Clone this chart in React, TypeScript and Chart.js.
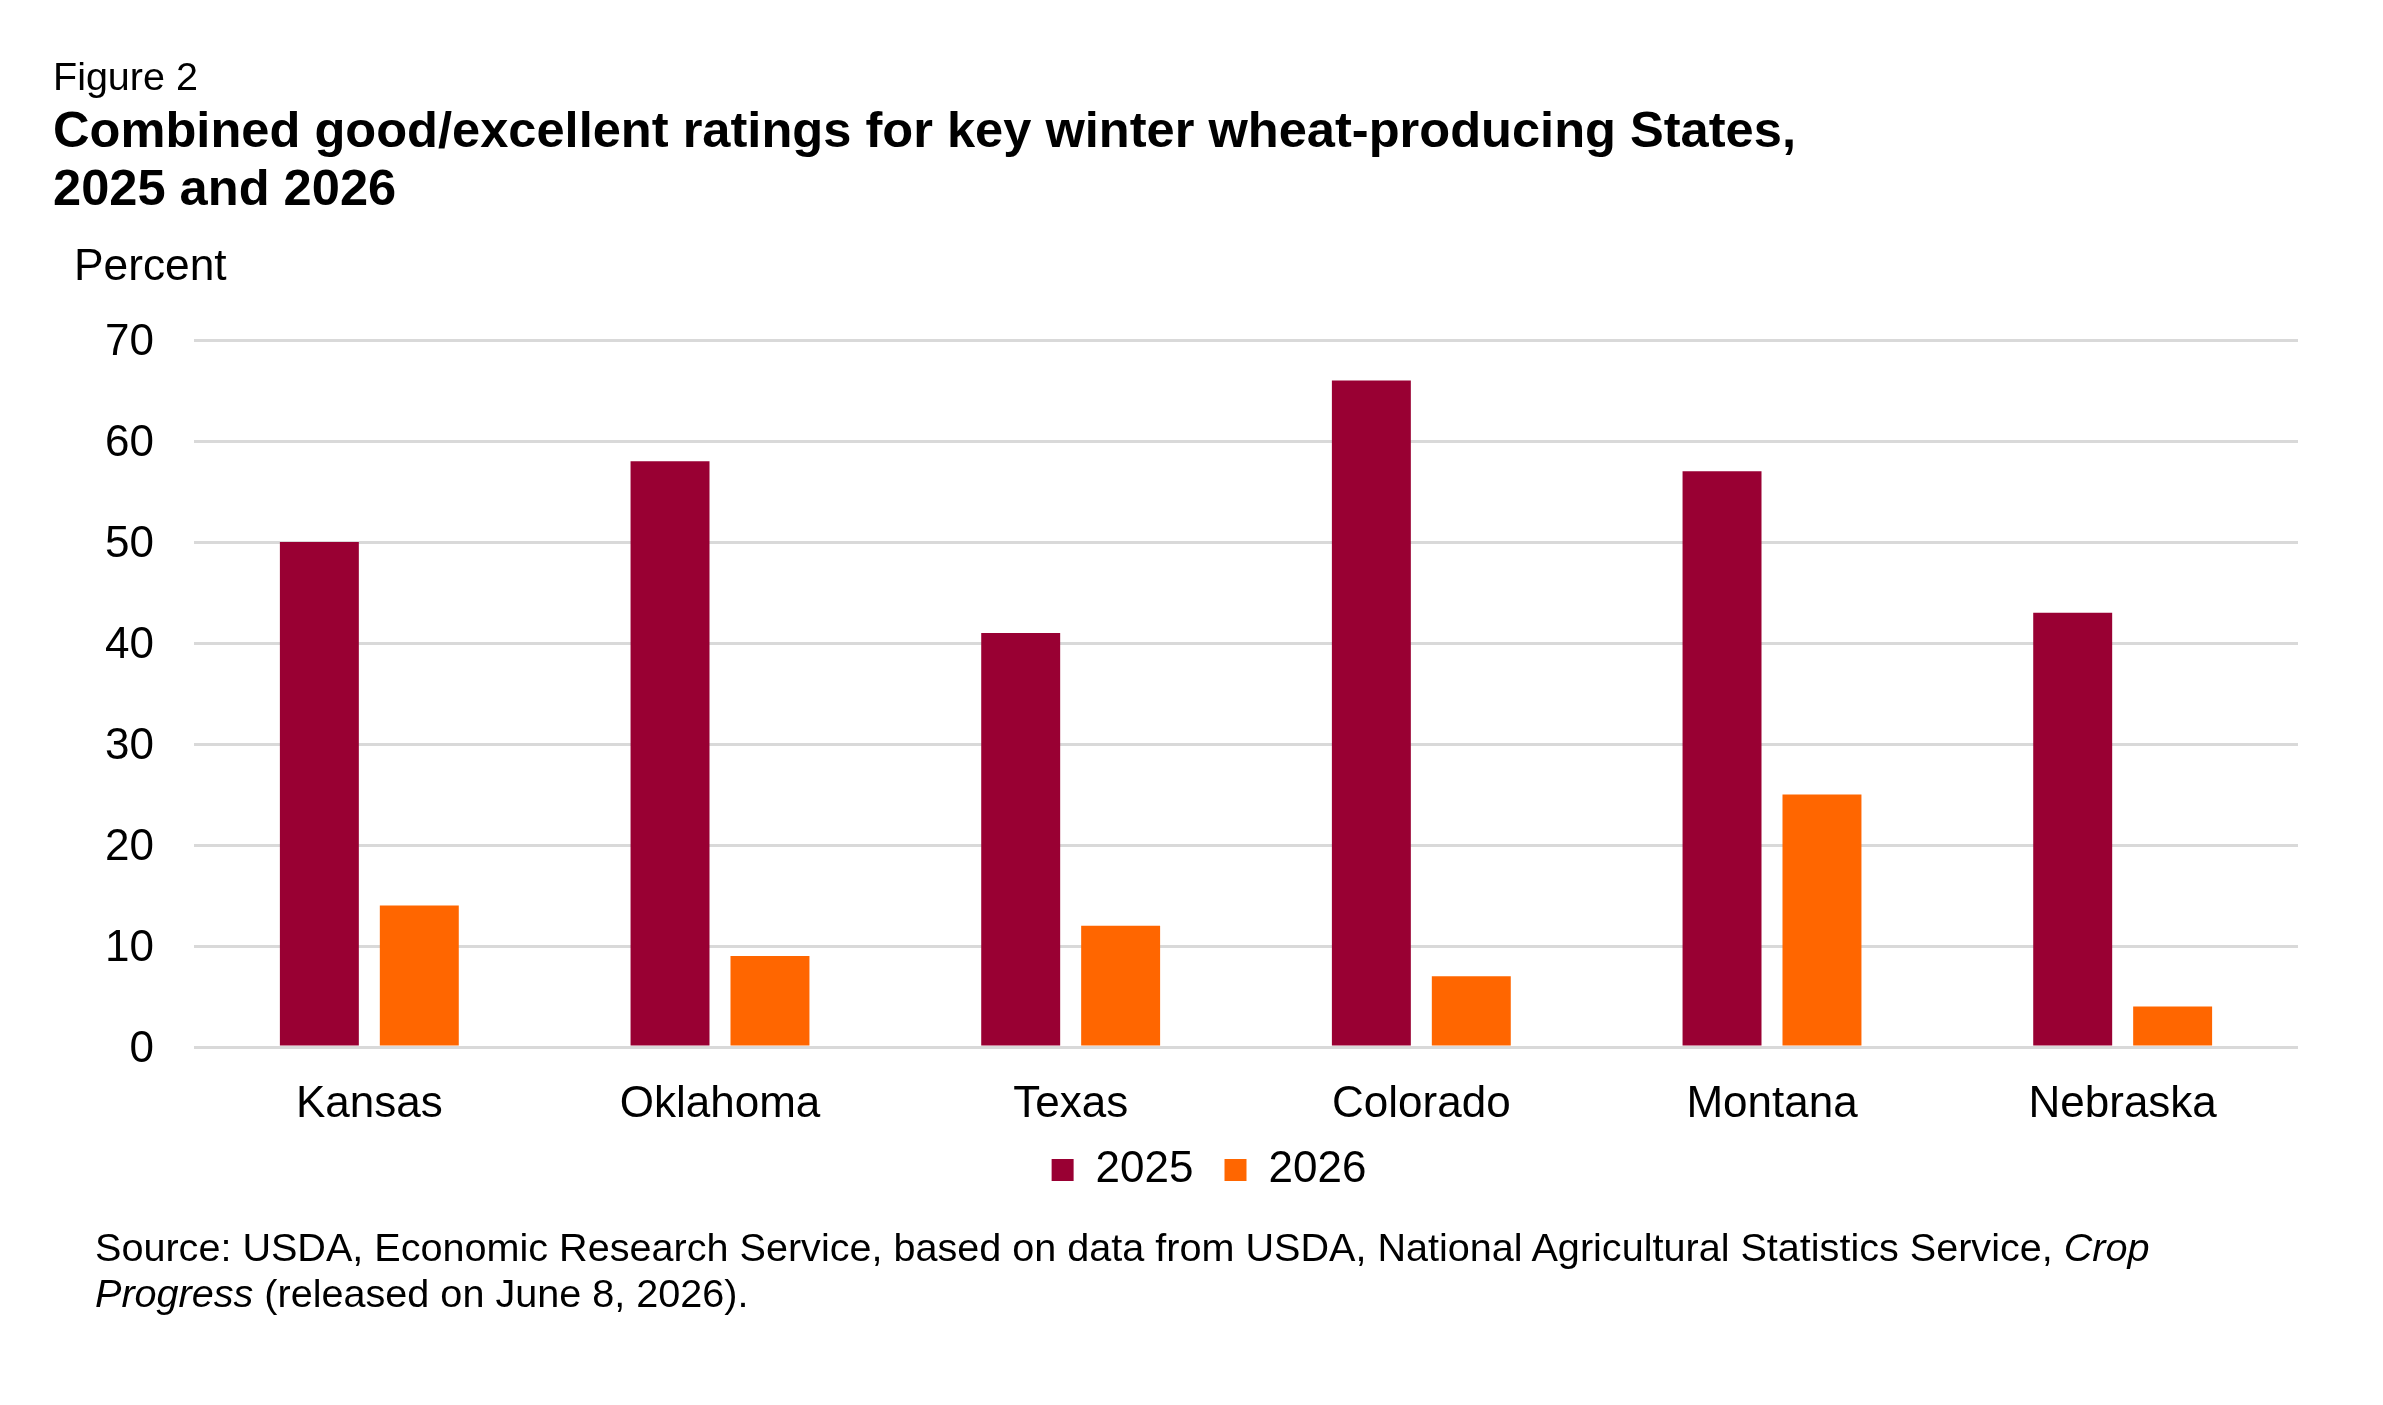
import React, { useEffect, useRef } from "react";
import { Chart, registerables } from "chart.js";

Chart.register(...registerables);

const categories = ["Kansas", "Oklahoma", "Texas", "Colorado", "Montana", "Nebraska"];
const seriesLabels = ["2025", "2026"];
const values2025 = [50, 58, 41, 66, 57, 43];
const values2026 = [14, 9, 12, 7, 25, 4];
const seriesColors = ["#990033", "#FF6600"];
const yMin = 0;
const yMax = 70;
const yStep = 10;

const figureLabel = "Figure 2";
const titleLines = [
  "Combined good/excellent ratings for key winter wheat-producing States,",
  "2025 and 2026",
];
const yAxisLabel = "Percent";

const FONT = "'Liberation Sans', Arial, Helvetica, sans-serif";

// Small layout nudge so the legend sits where the reference places it.
const legendNudge = {
  id: "legendNudge",
  afterLayout(chart: any) {
    const lg = chart.legend;
    if (!lg) return;
    lg.left += 10;
    lg.right += 10;
    lg.top -= 6;
    lg.bottom -= 6;
  },
};

export default function App() {
  const canvasRef = useRef<HTMLCanvasElement | null>(null);

  useEffect(() => {
    document.body.style.margin = "0";
    document.body.style.overflow = "hidden";
    const canvas = canvasRef.current;
    if (!canvas) return;
    const chart = new Chart(canvas, {
      type: "bar",
      data: {
        labels: categories,
        datasets: [
          {
            label: seriesLabels[0],
            data: values2025,
            backgroundColor: seriesColors[0],
            borderWidth: 0,
            categoryPercentage: 0.57,
            barPercentage: 0.79,
          },
          {
            label: seriesLabels[1],
            data: values2026,
            backgroundColor: seriesColors[1],
            borderWidth: 0,
            categoryPercentage: 0.57,
            barPercentage: 0.79,
          },
        ],
      },
      options: {
        responsive: false,
        animation: false,
        devicePixelRatio: 1,
        layout: { padding: { top: 340, left: 100, right: 85, bottom: 197 } },
        plugins: {
          tooltip: { enabled: false },
          title: { display: false },
          legend: {
            position: "bottom",
            labels: {
              boxWidth: 22,
              boxHeight: 22,
              padding: 31,
              color: "#000000",
              font: { family: FONT, size: 44 },
            },
          },
        },
        scales: {
          x: {
            grid: { display: false },
            border: { display: false },
            ticks: {
              color: "#000000",
              font: { family: FONT, size: 44, lineHeight: 1 },
              padding: 28,
              maxRotation: 0,
              autoSkip: false,
            },
            afterFit: (scale: any) => {
              scale.height = 76;
            },
          },
          y: {
            min: yMin,
            max: yMax,
            ticks: {
              stepSize: yStep,
              color: "#000000",
              font: { family: FONT, size: 44 },
              padding: 40,
              labelOffset: 2.5,
            },
            grid: { color: "#D9D9D9", lineWidth: 3, drawTicks: false },
            border: { display: false },
            afterFit: (scale: any) => {
              scale.width = 94;
            },
          },
        },
      },
      plugins: [legendNudge],
    });
    return () => chart.destroy();
  }, []);

  const textBase: React.CSSProperties = {
    position: "absolute",
    fontFamily: FONT,
    color: "#000",
    whiteSpace: "nowrap",
    margin: 0,
  };

  return (
    <div style={{ position: "relative", width: 2383, height: 1405, background: "#fff", overflow: "hidden" }}>
      <canvas
        ref={canvasRef}
        width={2383}
        height={1405}
        style={{ position: "absolute", left: 0, top: 0, width: 2383, height: 1405, display: "block" }}
      />
      <div style={{ ...textBase, left: 53, top: 54, fontSize: 39.5, lineHeight: "44px" }}>{figureLabel}</div>
      <div style={{ ...textBase, left: 53, top: 101, fontSize: 50.6, lineHeight: "58.3px", fontWeight: 700 }}>
        {titleLines[0]}
        <br />
        {titleLines[1]}
      </div>
      <div style={{ ...textBase, left: 74, top: 240, fontSize: 44.3, lineHeight: "50px" }}>{yAxisLabel}</div>
      <div style={{ ...textBase, left: 95, top: 1224, fontSize: 39.6, lineHeight: "46px" }}>
        Source: USDA, Economic Research Service, based on data from USDA, National Agricultural Statistics Service,{" "}
        <i>Crop</i>
        <br />
        <i>Progress</i> (released on June 8, 2026).
      </div>
    </div>
  );
}
